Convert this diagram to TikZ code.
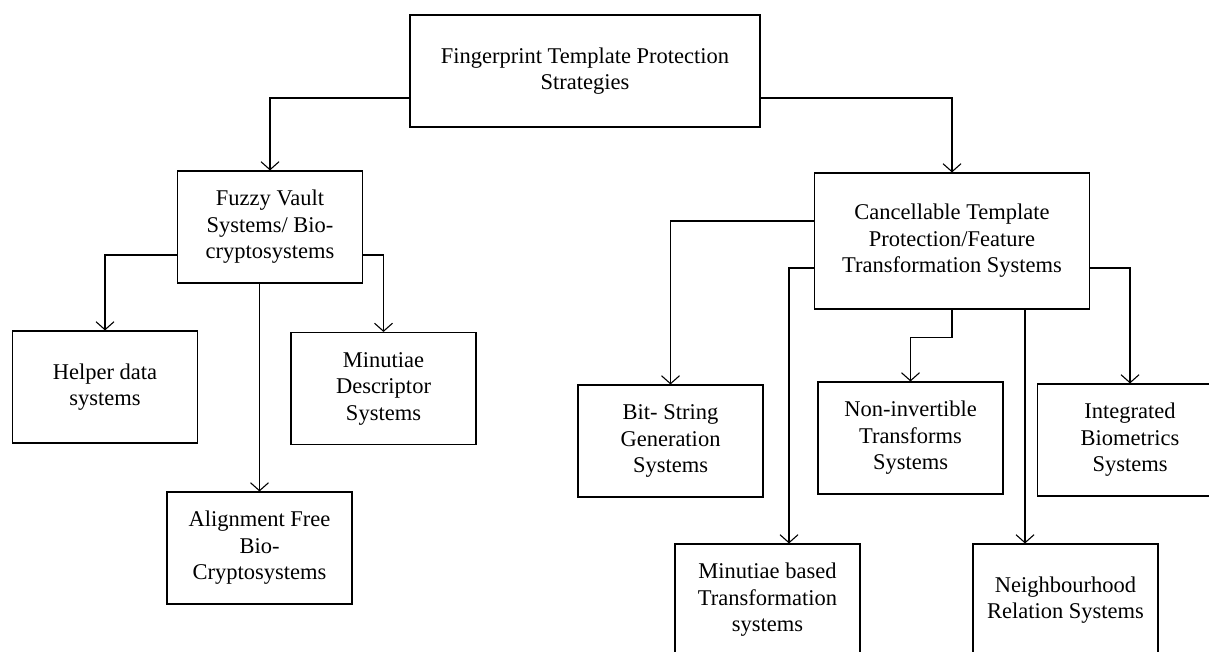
\documentclass[tikz,border=0pt]{standalone}
\usepackage{fontspec}
\setmainfont{Liberation Serif}
\usetikzlibrary{calc,positioning,arrows.meta}

\tikzset{
  blockbox/.style={draw, line width=1.1pt, align=center, minimum width=185pt,
    minimum height=112pt, inner sep=2pt, font=\fontsize{22.5}{26.5}\selectfont},
  link/.style={line width=1.1pt, -{Straight Barb[length=8pt,width=18pt]}}
}

\begin{document}
\begin{tikzpicture}[x=1pt,y=-1pt]
    \useasboundingbox (0,0) rectangle (1209,651);
    \clip (0,0) rectangle (1209,651);

    % Root of the tree
    \node[blockbox, minimum width=350pt] (root) at (585,71) {Fingerprint Template Protection\\Strategies};

    % The two main families
    \node[blockbox] (fuzzy) at (270,227) {Fuzzy Vault\\Systems/ Bio-\\cryptosystems};
    \node[blockbox, minimum width=275pt, minimum height=136pt] (cancel) at (952,241)
        {Cancellable Template\\Protection/Feature\\Transformation Systems};

    % Leaves of both families
    \foreach \n/\x/\y/\t in {
        helper/105/387/{Helper data\\systems},
        mdesc/383.5/388.5/{Minutiae\\Descriptor\\Systems},
        align/259.5/548/{Alignment Free\\Bio-\\Cryptosystems},
        bitstr/670.5/441/{Bit- String\\Generation\\Systems},
        noninv/910.5/438/{Non-invertible\\Transforms\\Systems},
        integ/1130/440/{Integrated\\Biometrics\\Systems},
        minbased/767.5/600/{Minutiae based\\Transformation\\systems},
        neigh/1065.5/600/{Neighbourhood\\Relation Systems}} {
        \node[blockbox] (\n) at (\x,\y) {\t};
    }

    % Root to families
    \draw[link] ([yshift=-27pt]root.west) -| (fuzzy.north);
    \draw[link] ([yshift=-27pt]root.east) -| (cancel.north);

    % Fuzzy vault branch
    \draw[link] ([yshift=-28pt]fuzzy.west) -| (helper.north);
    \draw[link] ([yshift=-28pt]fuzzy.east) -| (mdesc.north);
    \draw[link] (fuzzy.south -| align.north) -- (align.north);

    % Cancellable branch
    \coordinate (mbtop) at ([xshift=21.5pt]minbased.north);
    \coordinate (nbtop) at ([xshift=-40.5pt]neigh.north);
    \draw[link] ([yshift=20pt]cancel.west) -| (bitstr.north);
    \draw[link] ([yshift=-27pt]cancel.west) -| (mbtop);
    \draw[link] ([yshift=-27pt]cancel.east) -| (integ.north);
    \draw[link] (cancel.south) -- ++(0,28) -| (noninv.north);
    \draw[link] (cancel.south -| nbtop) -- (nbtop);
\end{tikzpicture}
\end{document}
